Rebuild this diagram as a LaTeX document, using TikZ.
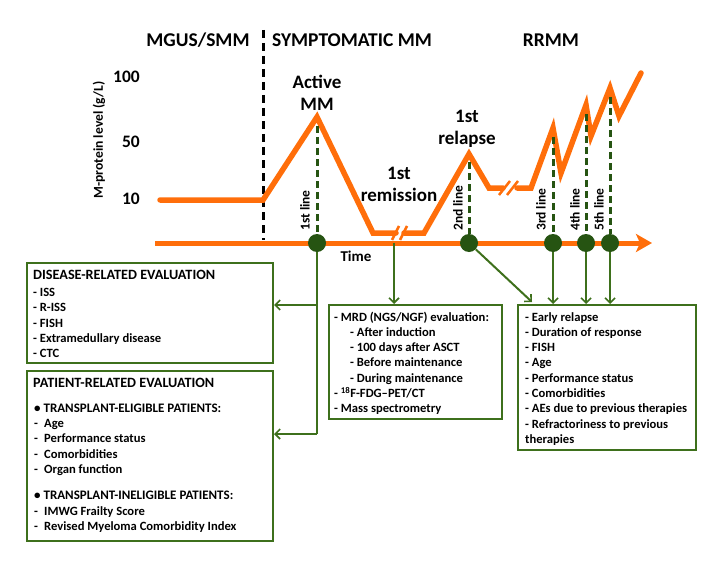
\documentclass[tikz,border=0pt]{standalone}
\usepackage{fontspec}
\setmainfont{Carlito}
\usetikzlibrary{arrows.meta,calc}
\definecolor{mmorange}{RGB}{255,110,10}
\definecolor{dotgreen}{RGB}{38,84,18}
\definecolor{boxgreen}{RGB}{62,112,28}
\newcommand{\mydash}{\makebox[10pt][l]{-}}
\begin{document}
\begin{tikzpicture}[x=1pt,y=-1pt,
  every node/.style={font=\bfseries, inner sep=0pt},
  curve/.style={draw=mmorange, line width=5.5pt, line cap=round, line join=miter},
  slash/.style={draw=mmorange, line width=2.5pt},
  axisline/.style={draw=mmorange, line width=5pt, -{Stealth[length=16pt,width=18pt,inset=4pt]}},
  phase/.style={font=\fontsize{19.5}{22}\selectfont\bfseries},
  ynum/.style={font=\fontsize{17.5}{20}\selectfont\bfseries, anchor=east},
  stage/.style={font=\fontsize{19}{22}\selectfont\bfseries, align=center},
  linelab/.style={font=\fontsize{13.5}{15}\selectfont\bfseries, rotate=90, anchor=west},
  gdash/.style={draw=dotgreen, line width=3pt, dash pattern=on 7pt off 4pt},
  bdash/.style={draw=black, line width=3pt, dash pattern=on 8pt off 5pt},
  gdot/.style={circle, fill=dotgreen, minimum size=18pt},
  evalbox/.style={draw=boxgreen, line width=2pt, rectangle},
  boxtext/.style={anchor=north west, align=left, font=\fontsize{12.6}{15.3}\selectfont\bfseries},
  hdr/.style={font=\fontsize{14.2}{16}\selectfont\bfseries, anchor=base west},
  conn/.style={draw=boxgreen, line width=2pt, -{Straight Barb[length=5pt,width=10pt,line width=1.6pt]}},
  connplain/.style={draw=boxgreen, line width=2pt}
]
\useasboundingbox (0,0) rectangle (708,572);

% phase titles
\node[phase] (tmgus) at (198,40) {MGUS/SMM};
\node[phase] (tsym) at (352,40) {SYMPTOMATIC MM};
\node[phase] (trr) at (551,40) {RRMM};

% y axis
\node[ynum] (y100) at (140,77) {100};
\node[ynum] (y50) at (140,142) {50};
\node[ynum] (y10) at (140,199) {10};
\node[font=\fontsize{13.6}{15}\selectfont\bfseries, rotate=90] (ylab) at (99,140) {M-protein level (g/L)};

% black dashed phase separator
\coordinate (sepT) at (263,30);
\coordinate (sepB) at (263,240);
\draw[bdash] (sepT) -- (sepB);

% time axis
\coordinate (axL) at (155,243);
\coordinate (axR) at (652,243);
\draw[axisline] (axL) -- (axR);
\node[font=\fontsize{15}{17}\selectfont\bfseries] (time) at (356,256) {Time};

% M-protein curve
\coordinate (p0) at (160,200);
\coordinate (p1) at (263,200);
\coordinate (pk1) at (317,117);
\coordinate (p2) at (373,233);
\coordinate (p3) at (396,233);
\coordinate (p4) at (404,233);
\coordinate (p5) at (424,233);
\coordinate (pk2) at (469,154);
\coordinate (p6) at (489,188);
\coordinate (p7) at (503,188);
\coordinate (p8) at (517,188);
\coordinate (p9) at (531,188);
\coordinate (pk3) at (553,128);
\coordinate (p10) at (561,173);
\coordinate (pk4) at (586,105);
\coordinate (p11) at (591,136);
\coordinate (pk5) at (610,88);
\coordinate (p12) at (619,116);
\coordinate (pend) at (641,73);
\draw[curve] (p0) -- (p1) -- (pk1) -- (p2) -- (p3);
\draw[curve] (p4) -- (p5) -- (pk2) -- (p6) -- (p7);
\draw[curve] (p8) -- (p9) -- (pk3) -- (p10) -- (pk4) -- (p11) -- (pk5) -- (p12) -- (pend);
% break marks
\draw[slash] (392,240) -- (399,226);
\draw[slash] (400,240) -- (407,226);
\draw[slash] (499,195) -- (510,181);
\draw[slash] (507,195) -- (518,181);

% stage labels
\node[stage] (active) at (317,93) {Active\\MM};
\node[stage] (remis) at (399,184) {1st\\remission};
\node[stage] (relap) at (467,129) {1st\\relapse};

% treatment lines
\node[gdot] (d1) at (317,243) {};
\node[gdot] (d2) at (469,243) {};
\node[gdot] (d3) at (553,243) {};
\node[gdot] (d4) at (586,243) {};
\node[gdot] (d5) at (610,243) {};
\draw[gdash] (317,126) -- (d1.north);
\draw[gdash] (469,162) -- (d2.north);
\draw[gdash] (553,137) -- (d3.north);
\draw[gdash] (586,114) -- (d4.north);
\draw[gdash] (610,97) -- (d5.north);
\node[linelab] (l1) at (305,231) {1st line};
\node[linelab] (l2) at (458,231) {2nd line};
\node[linelab] (l3) at (541,231) {3rd line};
\node[linelab] (l4) at (575,231) {4th line};
\node[linelab] (l5) at (599,231) {5th line};

% boxes
\node[evalbox, minimum width=246pt, minimum height=100pt] (dis) at (150,313) {};
\node[evalbox, minimum width=246pt, minimum height=170pt] (pat) at (150,456) {};
\node[evalbox, minimum width=173pt, minimum height=114pt] (mrd) at (415.5,362) {};
\node[evalbox, minimum width=178pt, minimum height=145pt] (rr) at (607,377.5) {};

\node[hdr] (dishdr) at (33,279) {DISEASE-RELATED EVALUATION};
\node[boxtext] (distext) at (33,288) {- ISS\\
- R-ISS\\
- FISH\\
- Extramedullary disease\\
- CTC};

\node[hdr] (pathdr) at (33,387) {PATIENT-RELATED EVALUATION};
\node[boxtext] (pattext) at (34,403.5) {{\fontsize{13}{15}\selectfont\textbullet\ TRANSPLANT-ELIGIBLE PATIENTS:}\\
\mydash Age\\
\mydash Performance status\\
\mydash Comorbidities\\
\mydash Organ function\\[11pt]
{\fontsize{13}{15}\selectfont\textbullet\ TRANSPLANT-INELIGIBLE PATIENTS:}\\
\mydash IMWG Frailty Score\\
\mydash Revised Myeloma Comorbidity Index};

\node[boxtext] (mrdtext) at (334,311.5) {- MRD (NGS/NGF) evaluation:\\
\hspace*{16pt}- After induction\\
\hspace*{16pt}- 100 days after ASCT\\
\hspace*{16pt}- Before maintenance\\
\hspace*{16pt}- During maintenance\\
- \textsuperscript{18}F-FDG–PET/CT\\
- Mass spectrometry};

\node[boxtext] (rrtext) at (525,312) {- Early relapse\\
- Duration of response\\
- FISH\\
- Age\\
- Performance status\\
- Comorbidities\\
- AEs due to previous therapies\\
- Refractoriness to previous\\
therapies};

% connectors
\coordinate (j1) at (317,305);
\coordinate (j2) at (317,434);
\draw[connplain] (d1.south) -- (j2);
\draw[conn] (j2) -- (j2 -| pat.east);
\draw[conn] (j1) -- (j1 -| dis.east);
\coordinate (br1) at (394,243);
\draw[conn] (br1) -- (br1 |- mrd.north);
\coordinate (rrin) at ($(rr.north west)+(15,-2)$);
\draw[conn] (d2) -- (rrin);
\draw[conn] (d3.south) -- (d3 |- rr.north);
\draw[conn] (d4.south) -- (d4 |- rr.north);
\draw[conn] (d5.south) -- (d5 |- rr.north);
\end{tikzpicture}
\end{document}
